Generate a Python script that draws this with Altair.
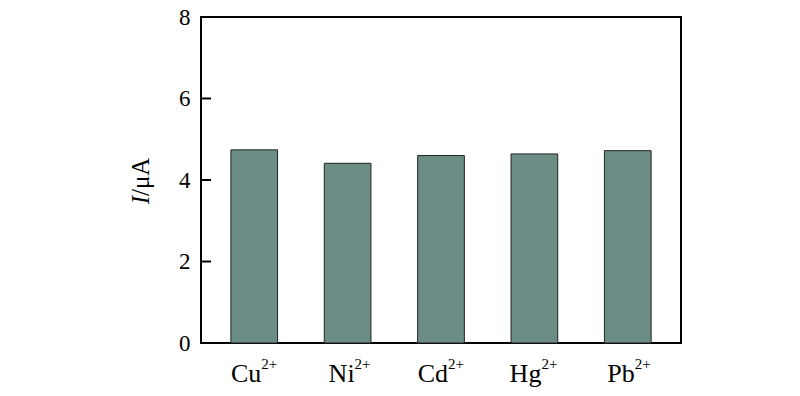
import altair as alt
import pandas as pd

ion_base = ["Cu", "Ni", "Cd", "Hg", "Pb"]
ion_sup = ["2+", "2+", "2+", "2+", "2+"]
current = [4.74, 4.41, 4.60, 4.64, 4.72]
y_ticks = [0, 2, 4, 6, 8]

ions = [b + s for b, s in zip(ion_base, ion_sup)]
df = pd.DataFrame({"ion": ions, "base": ion_base, "sup": ion_sup, "I": current})
ticks_df = pd.DataFrame({"t": y_ticks})
FONT = "Liberation Serif"

x_scale = alt.Scale(paddingInner=0.5, paddingOuter=0.32)
x_enc = alt.X("ion:N", sort=ions, title=None, scale=x_scale, axis=None)
y_scale = alt.Scale(domain=[0, 8], nice=False)

bars = alt.Chart(df).mark_bar(color="#6c8d86", stroke="#222222", strokeWidth=1).encode(
    x=x_enc,
    y=alt.Y("I:Q", scale=y_scale, title=None,
            axis=alt.Axis(values=y_ticks, ticks=False, domain=False, grid=False,
                          labelFont=FONT, labelFontSize=23, labelColor="black",
                          labelPadding=11, format="d")),
)

base_lbl = alt.Chart(df).mark_text(
    align="right", baseline="alphabetic", font=FONT, fontSize=26, color="black", dx=7
).encode(x=alt.X("ion:N", sort=ions, scale=x_scale, axis=None), y=alt.value(365), text="base:N")

sup_lbl = alt.Chart(df).mark_text(
    align="left", baseline="alphabetic", font=FONT, fontSize=15, color="black", dx=7
).encode(x=alt.X("ion:N", sort=ions, scale=x_scale, axis=None), y=alt.value(352), text="sup:N")

tick_rules = alt.Chart(ticks_df).mark_rule(color="black", strokeWidth=2).encode(
    y=alt.Y("t:Q", scale=y_scale),
    x=alt.value(0), x2=alt.value(10),
)

title_i = alt.Chart(pd.DataFrame({"s": ["I"]})).mark_text(
    angle=270, align="right", baseline="middle", font=FONT, fontSize=25,
    fontStyle="italic", color="black").encode(
    text="s:N", x=alt.value(-60), y=alt.value(179))
title_rest = alt.Chart(pd.DataFrame({"s": ["/μA"]})).mark_text(
    angle=270, align="left", baseline="middle", font=FONT, fontSize=25,
    color="black").encode(
    text="s:N", x=alt.value(-60), y=alt.value(179))

chart = alt.layer(bars, base_lbl, sup_lbl, tick_rules, title_i, title_rest).properties(
    width=480, height=326,
    background="white",
    autosize=alt.AutoSizeParams(type="none"),
    padding={"left": 193, "top": 9, "right": 100, "bottom": 52},
).configure_view(stroke="black", strokeWidth=2)

chart.save("out.html", embed_options={"renderer": "svg", "actions": False})
